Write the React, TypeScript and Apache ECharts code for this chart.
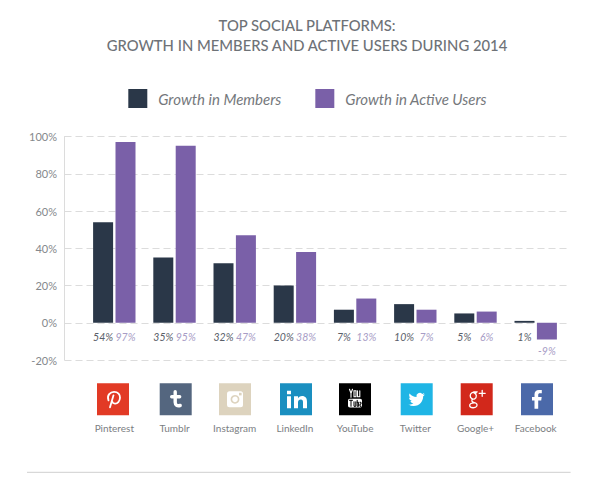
import React, { useEffect, useRef } from "react";
import * as echarts from "echarts";

const platforms = ["Pinterest", "Tumblr", "Instagram", "LinkedIn", "YouTube", "Twitter", "Google+", "Facebook"];
const growthInMembers = [54, 35, 32, 20, 7, 10, 5, 1];
const growthInActiveUsers = [97, 95, 47, 38, 13, 7, 6, -9];
const titleLines = ["TOP SOCIAL PLATFORMS:", "GROWTH IN MEMBERS AND ACTIVE USERS DURING 2014"];
const FONT = "Lato";

const G = echarts.graphic as any;
const reg = (name: string, d: string) => G.registerShape(name, G.extendPath(d, {}));
reg("logoPinterest", "M13 24 L16.5 12 M11.5 17 C9.5 12 13.5 8.5 17 8.5 C21 8.5 23.2 11.2 23 14.5 C22.8 18 20.5 20.5 18 20.3 C16.5 20.2 15.6 19.4 15.3 18.4");
reg("logoTumblr", "M15.5 8.5 V19 C15.5 22 17.5 22.8 20.5 22.2 M12 13.5 H20");
reg("logoLinkedin", "M7 13 H11 V25 H7 Z M7 7.5 H11 V11 H7 Z M14 13 H18 V15 C19 13.5 20.5 12.8 22 12.8 C25.5 12.8 27 15 27 18.5 V25 H23 V19 C23 17.2 22.4 16.2 20.9 16.2 C19 16.2 18 17.5 18 19.2 V25 H14 Z");
reg("logoYouYou", "M10.5 6 L12 10 V14 M13.5 6 L12 10 M15 7.5 H17 V13.5 H15 Z M18.5 7.5 V13.5 H20.8 V7.5");
reg("logoYouBox", "M11 15.5 H21 C22.5 15.5 23 16.2 23 17.5 V22 C23 23.5 22.5 24.2 21 24.2 H11 C9.5 24.2 9 23.5 9 22 V17.5 C9 16.2 9.5 15.5 11 15.5 Z");
reg("logoYouTube", "M10.5 17 H13.5 M12 17 V23 M15 18.5 V23 H16.8 V18.5 M18.2 17 V23 H19.6 V19 H18.2 M21 19 H22 V20.8 H21 V23 H22");
reg("logoTwitter", "M23.953 4.57 a10 10 0 0 1 -2.825 .775 a4.958 4.958 0 0 0 2.163 -2.723 c-.951 .555 -2.005 .959 -3.127 1.184 a4.92 4.92 0 0 0 -8.384 4.482 C7.69 8.095 4.067 6.13 1.64 3.162 a4.822 4.822 0 0 0 -.666 2.475 c0 1.71 .87 3.213 2.188 4.096 a4.904 4.904 0 0 1 -2.228 -.616 v.06 a4.923 4.923 0 0 0 3.946 4.827 a4.996 4.996 0 0 1 -2.212 .085 a4.936 4.936 0 0 0 4.604 3.417 a9.867 9.867 0 0 1 -6.102 2.105 c-.39 0 -.779 -.023 -1.17 -.067 a13.995 13.995 0 0 0 7.557 2.209 c9.053 0 13.998 -7.496 13.998 -13.985 c0 -.21 0 -.42 -.015 -.63 A9.935 9.935 0 0 0 24 4.59 Z");
reg("logoGoogle", "M15.5 9.5 C12 8 9.5 10 9.5 12.5 C9.5 15 12 16.5 14 15.5 C16.5 14.2 16 10.5 13.5 9.5 M16.5 8.5 H13 M12 16 C10.5 17 11 18.5 13 19 C16 19.8 17 21 16 23 C15 25 9.5 25 9 22.5 C8.7 20.5 11 19.5 13.5 19.5 M21.5 7 V13 M18.5 10 H24.5");
reg("logoFacebook", "M17.2 25.5 V17.3 H20.2 L20.7 13.8 H17.2 V11.6 C17.2 10.5 17.7 10 18.9 10 H20.8 V6.8 H18 C15 6.8 13.5 8.5 13.5 11.2 V13.8 H11 V17.3 H13.5 V25.5 Z");

const stroke = (type: string, w: number, color = "#fff") => ({
  type,
  style: { fill: "none", stroke: color, lineWidth: w, lineCap: "round" },
});
const fill = (type: string, color = "#fff") => ({ type, style: { fill: color } });

const icons: { left: number; color: string; parts: any[] }[] = [
  { left: 97, color: "#e23a25", parts: [stroke("logoPinterest", 1.8)] },
  { left: 159.7, color: "#54667f", parts: [stroke("logoTumblr", 3.4)] },
  {
    left: 219,
    color: "#ddd3be",
    parts: [
      { type: "rect", shape: { x: 8, y: 8, width: 16, height: 16, r: 2.5 }, style: { fill: "#fff" } },
      { type: "circle", shape: { cx: 16, cy: 16, r: 4.4 }, style: { fill: "#ddd3be" } },
      { type: "circle", shape: { cx: 16, cy: 16, r: 2.8 }, style: { fill: "#fff" } },
      { type: "rect", shape: { x: 20, y: 9.5, width: 2.6, height: 2.6 }, style: { fill: "#ddd3be" } },
    ],
  },
  { left: 280, color: "#1a8fc0", parts: [fill("logoLinkedin")] },
  {
    left: 339,
    color: "#000000",
    parts: [stroke("logoYouYou", 1.1), fill("logoYouBox"), stroke("logoYouTube", 1, "#000")],
  },
  {
    left: 400.7,
    color: "#1fb5e5",
    parts: [{ ...fill("logoTwitter"), x: 7.8, y: 8, scaleX: 0.68, scaleY: 0.68 }],
  },
  { left: 460.7, color: "#d2281b", parts: [stroke("logoGoogle", 1.3)] },
  { left: 521, color: "#4b69a9", parts: [fill("logoFacebook")] },
];

const barLabel = (color: string) => ({
  show: true,
  position: "insideBottom" as const,
  formatter: "{c}%",
  color,
  fontFamily: FONT,
  fontStyle: "italic" as const,
  fontSize: 10.5,
});
const labelLayout = (p: any) => {
  const bottom = p.rect.y + p.rect.height;
  const negative = String(p.text).startsWith("-");
  return { x: p.rect.x + p.rect.width / 2, y: bottom + (negative ? 11 : 14), align: "center", verticalAlign: "middle" };
};

export default function App() {
  const ref = useRef<HTMLDivElement>(null);
  useEffect(() => {
    const chart = echarts.init(ref.current!, undefined, { renderer: "svg" });
    chart.setOption({
      animation: false,
      backgroundColor: "#ffffff",
      legend: {
        left: 128.3,
        top: 89,
        padding: 0,
        icon: "rect",
        itemWidth: 19,
        itemHeight: 19,
        itemGap: 34,
        data: ["Growth in Members", "Growth in Active Users"],
        textStyle: { fontFamily: FONT, fontStyle: "italic", fontSize: 15, color: "#75787c", padding: [0, 0, 2, 6] },
      },
      grid: [
        { left: 64.5, width: 503.2, top: 136.5, height: 223.5 },
        { left: 84.2, width: 481.6, top: 136.5, height: 223.5 },
      ],
      xAxis: [
        { gridIndex: 0, type: "value", min: 0, max: 1, show: false },
        {
          gridIndex: 1,
          type: "category",
          data: platforms,
          position: "bottom",
          axisLine: { show: false, onZero: false },
          axisTick: { show: false },
          axisLabel: { margin: 63, color: "#7b7e82", fontFamily: FONT, fontSize: 10, interval: 0 },
        },
      ],
      yAxis: [
        {
          gridIndex: 0,
          type: "value",
          min: -20,
          max: 100,
          interval: 20,
          axisLine: { show: true, lineStyle: { color: "#dcdcdc", width: 1 } },
          axisTick: { show: false },
          axisLabel: { formatter: "{value}%", color: "#85888c", fontFamily: FONT, fontSize: 11, margin: 7.5, padding: [0, 0, 3, 0] },
          splitLine: { show: true, lineStyle: { color: "#dcdcdc", width: 1.2, type: [7, 4] } },
        },
        { gridIndex: 1, type: "value", min: -20, max: 100, interval: 20, show: false, splitLine: { show: false } },
      ],
      series: [
        {
          name: "Growth in Members",
          type: "bar",
          xAxisIndex: 1,
          yAxisIndex: 1,
          data: growthInMembers,
          barWidth: 20,
          barGap: "12%",
          itemStyle: { color: "#2a3748" },
          label: barLabel("#5a6069"),
          labelLayout,
        },
        {
          name: "Growth in Active Users",
          type: "bar",
          xAxisIndex: 1,
          yAxisIndex: 1,
          data: growthInActiveUsers,
          barWidth: 20,
          itemStyle: { color: "#7a60a8" },
          label: barLabel("#a89dc6"),
          labelLayout,
        },
      ],
      graphic: [
        {
          type: "text",
          x: 307,
          y: 24.5,
          style: { text: titleLines[0], textAlign: "center", textVerticalAlign: "middle", fontFamily: FONT, fontSize: 14.8, fontWeight: 500, fill: "#6e7277" },
        },
        {
          type: "text",
          x: 307,
          y: 44.5,
          style: { text: titleLines[1], textAlign: "center", textVerticalAlign: "middle", fontFamily: FONT, fontSize: 14.8, fontWeight: 500, fill: "#6e7277" },
        },
        ...icons.map((ic) => ({
          type: "group",
          x: ic.left,
          y: 383.3,
          children: [{ type: "rect", shape: { x: 0, y: 0, width: 32, height: 32 }, style: { fill: ic.color } }, ...ic.parts],
        })),
        { type: "line", shape: { x1: 27, y1: 472.3, x2: 570.6, y2: 472.3 }, style: { stroke: "#cfcfcf", lineWidth: 1 } },
      ],
    });
    return () => chart.dispose();
  }, []);
  return <div ref={ref} style={{ position: "absolute", left: 0, top: 0, width: 600, height: 477 }} />;
}
